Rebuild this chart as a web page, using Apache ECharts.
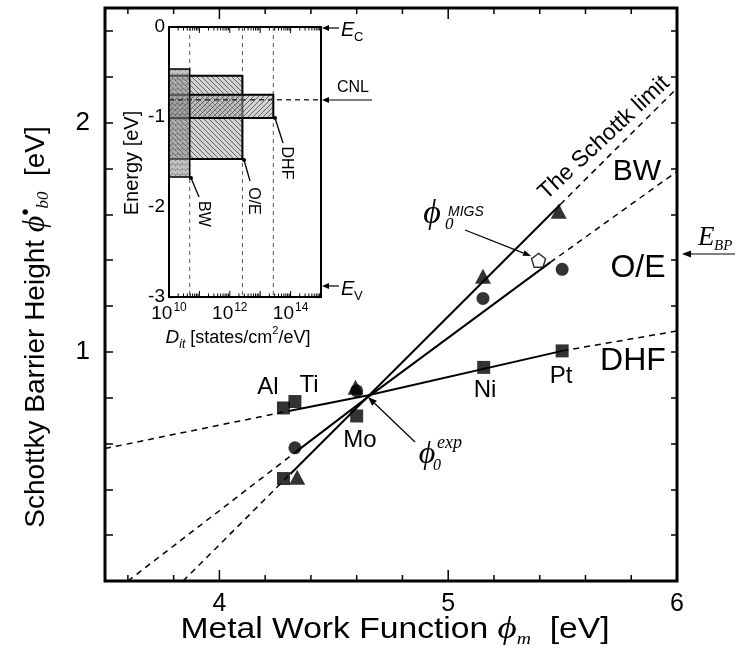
<!DOCTYPE html>
<html><head><meta charset="utf-8">
<script src="https://cdn.jsdelivr.net/npm/echarts@6/dist/echarts.min.js"></script>
<style>html,body{margin:0;padding:0;background:#fff}#c{width:738px;height:660px}</style>
</head><body><div id="c"></div><script>
// ---------------- data ----------------
const squares   = [[4.28,0.755],[4.33,0.783],[4.60,0.72],[5.155,0.932],[5.498,1.004],[4.28,0.447]];
const triangles = [[4.34,0.453],[4.595,0.845],[5.152,1.33],[5.483,1.613]];
const circles   = [[4.33,0.581],[4.60,0.83],[5.152,1.233],[5.498,1.36]];
const migsPoint = [[5.395,1.399]];
const bwSolid     = [[4.31,0.467],[5.49,1.643]];
const bwDashLow   = [[3.841,0],[4.31,0.467]];
const bwDashHigh  = [[5.49,1.643],[6.0,2.150]];
const oeSolid     = [[4.33,0.56],[4.646,0.80],[5.446,1.39]];
const oeDashLow   = [[3.6,0],[4.33,0.56]];
const oeDashHigh  = [[5.446,1.39],[6.0,1.787]];
const dhfSolid    = [[4.309,0.743],[4.646,0.809],[5.499,1.004]];
const dhfDashLow  = [[3.5,0.578],[4.309,0.743]];
const dhfDashHigh = [[5.499,1.004],[6.0,1.091]];
const xMajorTicks = [4,5,6];
const xMinorTicks = [3.6,3.8,4.2,4.4,4.6,4.8,5.2,5.4,5.6,5.8];
const yTickLabels = [1,2];
// inset
const insetNames  = ['BW','O/E','DHF'];
const insetDit    = [4.8e10, 2.6e12, 2.7e13];
const insetTop    = [-0.467,-0.541,-0.752];
const insetBottom = [-1.667,-1.467,-1.011];
const cnlEnergy   = -0.808;
const insetXTickLabels = [10,12,14];   // exponents shown
const insetYTickLabels = [0,-1,-2,-3];
const insetXMin = 1e10, insetXMax = 1e15;

// ---------------- helpers ----------------
const SANS = 'Liberation Sans', SERIF = 'Liberation Serif';
const PHI = '\u03D5';
function pat(kind){
  const s=5, c=document.createElement('canvas'); c.width=s; c.height=s;
  const g=c.getContext('2d');
  if(kind==='BW'){
    g.fillStyle='rgba(140,140,140,0.55)'; g.fillRect(0,0,s,s);
    g.fillStyle='rgba(60,60,60,0.5)'; g.fillRect(0,0,1,1); g.fillRect(2,3,1,1);
    g.fillStyle='rgba(110,110,110,0.4)'; g.fillRect(0,4,s,1);
  } else {
    g.fillStyle='rgba(175,175,175,0.55)'; g.fillRect(0,0,s,s);
    g.strokeStyle='rgba(70,70,70,0.8)'; g.lineWidth=1; g.beginPath();
    if(kind==='O/E'){ g.moveTo(-1,-1); g.lineTo(s+1,s+1); g.moveTo(-1,s-1); g.lineTo(1,s+1); g.moveTo(s-1,-1); g.lineTo(s+1,1); }
    else { g.moveTo(-1,s+1); g.lineTo(s+1,-1); g.moveTo(-1,1); g.lineTo(1,-1); g.moveTo(s-1,s+1); g.lineTo(s+1,s-1); }
    g.stroke();
  }
  return {image:c, repeat:'repeat'};
}
function arrow(x1,y1,x2,y2,head,w,lw){
  head=head||8; w=w||3; lw=lw||1.2;
  const a=Math.atan2(y2-y1,x2-x1), bx=x2-head*Math.cos(a), by=y2-head*Math.sin(a);
  const nx=-Math.sin(a), ny=Math.cos(a);
  return [
    {type:'line', z:100, shape:{x1,y1,x2:bx,y2:by}, style:{stroke:'#000', lineWidth:lw}},
    {type:'polygon', z:100, shape:{points:[[x2,y2],[bx+nx*w,by+ny*w],[bx-nx*w,by-ny*w]]}, style:{fill:'#000'}}
  ];
}
function txt(x,y,text,font,opt){
  opt=opt||{};
  return Object.assign({type:'text', z:100, x, y, style:Object.assign({text, font, fill:'#000', align:'center', verticalAlign:'middle'}, opt.style||{})}, opt.el||{});
}
function leader(x1,y1,x2,y2){
  return [
    {type:'line', z:100, shape:{x1,y1,x2,y2}, style:{stroke:'#000', lineWidth:1.3}},
    {type:'circle', z:100, shape:{cx:x1, cy:y1, r:2}, style:{fill:'#000'}}
  ];
}
const lineBase = {type:'line', xAxisIndex:0, yAxisIndex:0, symbol:'none', silent:true, z:3};
function seg(data, dashed){
  return Object.assign({}, lineBase, {data, lineStyle:{color:'#000', width: dashed?1.5:2, type: dashed?[6,5]:'solid'}});
}

// ---------------- chart ----------------
const chart = echarts.init(document.getElementById('c'), null, {renderer:'canvas'});
const xTickData = xMajorTicks.map(v=>[v,11]).concat(xMinorTicks.map(v=>[v,6]));
const insetTickData = [];
for(let n=10;n<15;n++){ for(let k=1;k<10;k++){ insetTickData.push([k*Math.pow(10,n), k===1?6:3.5]); } }
const insetOrder = [1,2,0];

const option = {
  animation:false,
  backgroundColor:'#fff',
  textStyle:{fontFamily:SANS},
  grid:[
    {left:105, top:8, width:572, height:573, show:true, borderWidth:3, borderColor:'#000', backgroundColor:'transparent', z:1},
    {left:169, top:27, width:152, height:270, show:true, borderWidth:2, borderColor:'#000', backgroundColor:'#fff', z:5}
  ],
  xAxis:[
    {type:'value', gridIndex:0, min:3.5, max:6, interval:0.5, axisLine:{show:false}, axisTick:{show:false}, splitLine:{show:false},
     axisLabel:{fontSize:25, color:'#000', margin:11, fontFamily:SANS,
       formatter:v=>xMajorTicks.some(t=>Math.abs(t-v)<1e-6)?String(Math.round(v)):''}},
    {type:'log', gridIndex:1, logBase:10, min:insetXMin, max:insetXMax, splitNumber:5, axisLine:{show:false}, axisTick:{show:false}, splitLine:{show:false},
     axisLabel:{fontSize:19, color:'#000', margin:5, fontFamily:SANS, lineHeight:24,
       rich:{s:{fontSize:12, verticalAlign:'top', fontFamily:SANS, padding:[0,0,0,1]}},
       formatter:v=>{const e=Math.round(Math.log10(v)); return insetXTickLabels.includes(e)?'10{s|'+e+'}':'';}}}
  ],
  yAxis:[
    {type:'value', gridIndex:0, min:0, max:2.5, interval:0.2, axisLine:{show:false}, splitLine:{show:false},
     axisTick:{show:true, inside:true, length:8, lineStyle:{color:'#000', width:1.5}},
     axisLabel:{fontSize:26, color:'#000', margin:15, fontFamily:SANS,
       formatter:v=>yTickLabels.some(t=>Math.abs(t-v)<1e-6)?String(Math.round(v)):''}},
    {type:'value', gridIndex:0, position:'right', min:0, max:2.5, interval:0.2, axisLine:{show:false}, splitLine:{show:false},
     axisTick:{show:true, inside:true, length:6, lineStyle:{color:'#000', width:1.5}}, axisLabel:{show:false}},
    {type:'value', gridIndex:1, min:-3, max:0, interval:0.5, axisLine:{show:false}, splitLine:{show:false},
     axisTick:{show:true, inside:true, length:5, lineStyle:{color:'#000', width:1.2}},
     axisLabel:{fontSize:19, color:'#000', margin:4, fontFamily:SANS,
       formatter:v=>insetYTickLabels.some(t=>Math.abs(t-v)<1e-6)?String(Math.round(v)):''}},
    {type:'value', gridIndex:1, position:'right', min:-3, max:0, interval:0.5, axisLine:{show:false}, splitLine:{show:false},
     axisTick:{show:true, inside:true, length:5, lineStyle:{color:'#000', width:1.2}}, axisLabel:{show:false}}
  ],
  series:[
    {type:'custom', xAxisIndex:0, yAxisIndex:0, silent:true, clip:false, z:4, data:xTickData,
     renderItem:(p,api)=>{const v=api.value(0), L=api.value(1); const b=api.coord([v,0]), t=api.coord([v,2.5]);
       return {type:'group', children:[
         {type:'line', shape:{x1:b[0],y1:b[1],x2:b[0],y2:b[1]-L}, style:{stroke:'#000', lineWidth:1.5}},
         {type:'line', shape:{x1:t[0],y1:t[1],x2:t[0],y2:t[1]+L}, style:{stroke:'#000', lineWidth:1.5}}]};}},
    seg(bwDashLow,true), seg(bwSolid,false), seg(bwDashHigh,true),
    seg(oeDashLow,true), seg(oeSolid,false), seg(oeDashHigh,true),
    seg(dhfDashLow,true), seg(dhfSolid,false), seg(dhfDashHigh,true),
    {type:'scatter', xAxisIndex:0, yAxisIndex:0, data:circles, symbol:'circle', symbolSize:13, itemStyle:{color:'#000'}, z:6, silent:true},
    {type:'scatter', xAxisIndex:0, yAxisIndex:0, data:squares, symbol:'rect', symbolSize:13, itemStyle:{color:'#000'}, z:6, silent:true},
    {type:'scatter', xAxisIndex:0, yAxisIndex:0, data:triangles, symbol:'triangle', symbolSize:[16,15], itemStyle:{color:'#000'}, z:7, silent:true},
    {type:'scatter', xAxisIndex:0, yAxisIndex:0, data:migsPoint, symbol:'path://M0,-1 L0.951,-0.309 L0.588,0.809 L-0.588,0.809 L-0.951,-0.309 Z',
     symbolSize:14, itemStyle:{color:'#fff', borderColor:'#000', borderWidth:1.5}, z:7, silent:true},
    {type:'custom', xAxisIndex:1, yAxisIndex:2, silent:true, z:6, data:insetDit.map(d=>[d]),
     renderItem:(p,api)=>{const a=api.coord([api.value(0),0]), b=api.coord([api.value(0),-3]);
       return {type:'line', shape:{x1:a[0],y1:a[1],x2:b[0],y2:b[1]}, style:{stroke:'#555', lineWidth:1, lineDash:[4,4]}};}},
    {type:'custom', xAxisIndex:1, yAxisIndex:2, silent:true, z:7,
     data:insetOrder.map(i=>[insetDit[i], insetTop[i], insetBottom[i], i]),
     renderItem:(p,api)=>{const i=api.value(3); const a=api.coord([insetXMin, api.value(1)]), b=api.coord([api.value(0), api.value(2)]);
       return {type:'rect', shape:{x:a[0], y:a[1], width:b[0]-a[0], height:b[1]-a[1]},
         style:{fill:pat(insetNames[i]), stroke:'#000', lineWidth: i===0?1.5:2}};}},
    {type:'line', xAxisIndex:1, yAxisIndex:2, symbol:'none', silent:true, z:8,
     data:[[insetXMin,cnlEnergy],[insetXMax,cnlEnergy]], lineStyle:{color:'#333', width:1.5, type:[5,4]}},
    {type:'custom', xAxisIndex:1, yAxisIndex:2, silent:true, clip:false, z:9, data:insetTickData,
     renderItem:(p,api)=>{const v=api.value(0), L=api.value(1); const b=api.coord([v,-3]), t=api.coord([v,0]);
       return {type:'group', children:[
         {type:'line', shape:{x1:b[0],y1:b[1],x2:b[0],y2:b[1]-L}, style:{stroke:'#000', lineWidth:1}},
         {type:'line', shape:{x1:t[0],y1:t[1],x2:t[0],y2:t[1]+L}, style:{stroke:'#000', lineWidth:1}}]};}}
  ],
  graphic:[].concat(
    [{type:'text', z:100, x:36, y:327, rotation:Math.PI/2, style:{
        text:'{n|Schottky Barrier Height }{p|'+PHI+'}{sp|•}{sb|b0}{n|  [eV]}', align:'center', verticalAlign:'middle', fill:'#000',
        rich:{n:{fontSize:28, fontFamily:SANS, lineHeight:40},
              p:{fontSize:32, fontFamily:SERIF, fontStyle:'italic', lineHeight:40},
              sp:{fontSize:20, fontFamily:SANS, verticalAlign:'top'},
              sb:{fontSize:17, fontFamily:SERIF, fontStyle:'italic', verticalAlign:'bottom', padding:[0,0,4,0]}}}},
     {type:'text', z:100, x:395, y:630, scaleX:1.16, style:{
        text:'{n|Metal Work Function }{p|'+PHI+'}{sb|m}{n|  [eV]}', align:'center', verticalAlign:'middle', fill:'#000',
        rich:{n:{fontSize:29, fontFamily:SANS, lineHeight:40},
              p:{fontSize:32, fontFamily:SERIF, fontStyle:'italic', lineHeight:40},
              sb:{fontSize:17, fontFamily:SERIF, fontStyle:'italic', verticalAlign:'bottom', padding:[0,0,2,0]}}}}],
    [txt(268,387,'Al','24px '+SANS), txt(309,385,'Ti','24px '+SANS), txt(360,440,'Mo','24px '+SANS),
     txt(485,390,'Ni','24px '+SANS), txt(561,376,'Pt','24px '+SANS)],
    [txt(637,172,'BW','30px '+SANS), txt(638,268,'O/E','32px '+SANS), txt(633,361,'DHF','32px '+SANS),
     txt(604,138,'The Schottk limit','23px '+SANS,{el:{rotation:43*Math.PI/180}})],
    [txt(698,238,'E','italic 27px '+SERIF,{style:{align:'left'}}), txt(714,246,'BP','italic 15px '+SERIF,{style:{align:'left'}})],
    arrow(735,254,682,254,9,3.5,1.2),
    [txt(432,214,PHI,'italic 34px '+SERIF), txt(445,225,'0','italic 17px '+SERIF,{style:{align:'left'}}),
     txt(448,212,'MIGS','italic 14px '+SANS,{style:{align:'left'}})],
    arrow(465,230,531,256,8,3,1.2),
    [txt(427,455,PHI,'italic 32px '+SERIF), txt(433,466,'0','italic 16px '+SERIF,{style:{align:'left'}}),
     txt(437,443,'exp','italic 18px '+SERIF,{style:{align:'left'}})],
    arrow(415,442,368,397,9,3.5,1.2),
    [txt(341,30,'E','italic 20px '+SANS,{style:{align:'left'}}), txt(354,37,'C','13px '+SANS,{style:{align:'left'}}),
     txt(341,289,'E','italic 20px '+SANS,{style:{align:'left'}}), txt(354,296,'V','13px '+SANS,{style:{align:'left'}}),
     txt(353,88,'CNL','16px '+SANS)],
    arrow(339,28,322,28,7,3,1.2), arrow(339,286,322,286,7,3,1.2), arrow(372,100,322,100,7,3,1.2),
    [txt(203,214,'BW','16px '+SANS,{el:{rotation:-Math.PI/2}}),
     txt(253,201,'O/E','16px '+SANS,{el:{rotation:-Math.PI/2}}),
     txt(286,163,'DHF','16px '+SANS,{el:{rotation:-Math.PI/2}})],
    leader(191,178,199,197), leader(244,160,250,181), leader(275,118,283,143),
    [{type:'text', z:100, x:132, y:163, rotation:Math.PI/2, style:{text:'Energy [eV]', font:'20px '+SANS, fill:'#000', align:'center', verticalAlign:'middle'}},
     {type:'text', z:100, x:238, y:338, style:{text:'{i|D}{is|it} [states/cm{sp|2}/eV]', fill:'#000', align:'center', verticalAlign:'middle',
        rich:{i:{fontSize:19, fontStyle:'italic', fontFamily:SANS, lineHeight:26},
              is:{fontSize:12, fontStyle:'italic', fontFamily:SANS, verticalAlign:'bottom'},
              sp:{fontSize:11, fontFamily:SANS, verticalAlign:'top'}}, fontSize:18, fontFamily:SANS}}]
  )
};
chart.setOption(option);
</script></body></html>
